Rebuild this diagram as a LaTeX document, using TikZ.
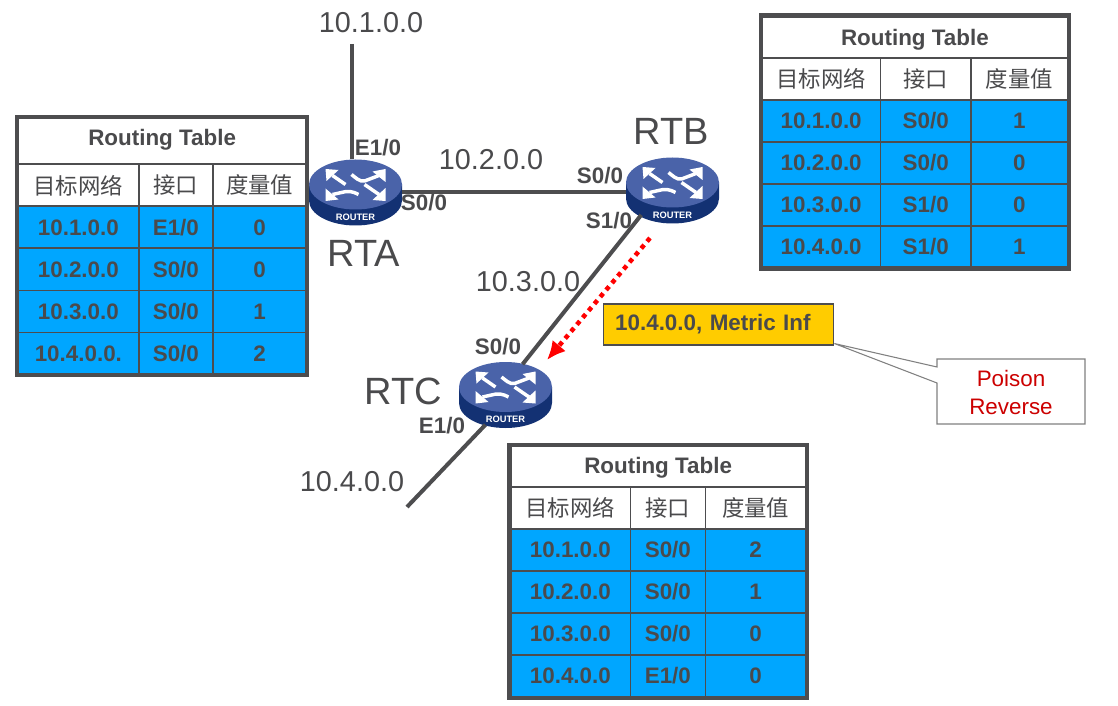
\documentclass[tikz,border=0pt]{standalone}
\usepackage{fontspec}
\setmainfont{Liberation Sans}
\newfontfamily\cjk{Noto Sans CJK SC}
\usetikzlibrary{arrows.meta,shapes.geometric,shapes.callouts}

\definecolor{txtgray}{HTML}{4A4A4C}
\definecolor{linegray}{HTML}{4D4D4F}
\definecolor{cellblue}{HTML}{00A6FF}
\definecolor{boxyellow}{HTML}{FFCC00}
\definecolor{routertop}{HTML}{4A63A9}
\definecolor{routerside}{HTML}{133173}
\definecolor{poisonred}{HTML}{CC0000}

\tikzset{
  tcell/.style={rectangle, draw=linegray, line width=1.3pt, anchor=north west, inner sep=0pt, text=txtgray},
  titlecell/.style={tcell, fill=white},
  titletext/.style={inner sep=0pt, text=txtgray, font=\fontsize{16.8}{20}\selectfont\bfseries},
  headcell/.style={tcell, fill=white, font=\fontsize{16.8}{20}\selectfont\cjk},
  datacell/.style={tcell, fill=cellblue, font=\fontsize{16.8}{20}\selectfont\bfseries},
  tableframe/.style={draw=linegray, line width=3.2pt},
  netlabel/.style={text=txtgray, inner sep=0pt, font=\fontsize{21.6}{26}\selectfont},
  portlabel/.style={text=txtgray, inner sep=0pt, font=\fontsize{16.8}{20}\selectfont\bfseries},
  routerlabel/.style={text=txtgray, inner sep=0pt, font=\fontsize{28.5}{34}\selectfont},
  routerbody/.style={ellipse, minimum width=69.75pt, minimum height=49.5pt, inner sep=0pt, outer sep=0pt},
  routershaft/.style={draw=white, line width=2.6pt},
  routerhead/.style={fill=white},
  link/.style={draw=linegray, line width=3pt}
}

% router icon: name, x, y
\newcommand{\routericon}[3]{%
  \node[routerbody] (#1) at (#2,#3) {};
  \begin{scope}[shift={(#2,#3)}]
    \fill[routerside] (-46.5,-8) -- (-46.5,8) arc[start angle=180, end angle=0, x radius=46.5, y radius=25] -- (46.5,-8) -- cycle;
    \fill[routertop] (0,-8) ellipse[x radius=46.5, y radius=25];
    \begin{scope}[shift={(0,-8)}]
      \draw[routershaft] (-23,-9) -- (-10,0);
      \fill[routerhead] (-30,-15.5) -- (-17,-14.5) -- (-29,-3.5) -- cycle;
      \draw[routershaft] (23.5,-9) -- (9,-3.5) .. controls (4,-2.5) and (0,-7) .. (-4,-10);
      \fill[routerhead] (30,-15.5) -- (17,-13) -- (30,-2.5) -- cycle;
      \draw[routershaft] (-23,10) -- (-14,8) .. controls (-8,6) and (-2,7) .. (3,10);
      \fill[routerhead] (-30,16.5) -- (-30,4) -- (-17,15) -- cycle;
      \draw[routershaft] (23.5,10) -- (9,0);
      \fill[routerhead] (30,16.5) -- (30,3.5) -- (17,15.5) -- cycle;
    \end{scope}
    \node[inner sep=0pt, text=white, font=\fontsize{7}{8}\selectfont\bfseries] (#1-tag) at (0,24.5) {ROUTER};
  \end{scope}
}

% routing table: name, left, top, three column widths, title height, header height, rows
\newcommand{\titleshift}{0pt}
\newcommand{\routingtable}[9]{%
  \pgfmathsetmacro{\tablew}{#4+#5+#6}
  \node[titlecell, minimum width=0.75pt*\tablew, minimum height=0.75pt*#7] (#1-title) at (#2,#3) {};
  \node[titletext, yshift=\titleshift] (#1-caption) at (#1-title.center) {Routing Table};
  \node[headcell, minimum width=0.75pt*#4, minimum height=0.75pt*#8] (#1-net) at (#2,#3+#7) {目标网络};
  \node[headcell, minimum width=0.75pt*#5, minimum height=0.75pt*#8] (#1-port) at (#2+#4,#3+#7) {接口};
  \node[headcell, minimum width=0.75pt*#6, minimum height=0.75pt*#8] (#1-metric) at (#2+#4+#5,#3+#7) {度量值};
  \foreach \rnet/\rport/\rmetric [count=\r] in {#9} {
    \pgfmathsetmacro{\rtop}{#3+#7+#8+(\r-1)*42}
    \node[datacell, minimum width=0.75pt*#4, minimum height=31.5pt] (#1-net-\r) at (#2,\rtop) {\rnet};
    \node[datacell, minimum width=0.75pt*#5, minimum height=31.5pt] (#1-port-\r) at (#2+#4,\rtop) {\rport};
    \node[datacell, minimum width=0.75pt*#6, minimum height=31.5pt] (#1-metric-\r) at (#2+#4+#5,\rtop) {\rmetric};
  }
  \draw[tableframe] (#1-title.north west) rectangle (#1-metric-4.south east);
}

\begin{document}
\begin{tikzpicture}[x=0.75pt, y=-0.75pt]
    \useasboundingbox (0,0) rectangle (1118,706);

    % Routers
    \routericon{rta}{355.5}{192.5}
    \routericon{rtb}{672.5}{190.5}
    \routericon{rtc}{505.5}{395}

    % Free ends
    \coordinate (net1) at (352,44);
    \coordinate (net4) at (407,507);
    \coordinate (updstart) at (650,238);
    \coordinate (updend) at (547,360);

    % Links
    \draw[link] (net1) -- (rta.north -| net1);
    \draw[link] (rta.east) -- (rtb.west |- rta.east);
    \draw[link] (rtb.218) -- (rtc.61);
    \draw[link] (rtc.236) -- (net4);

    % Update on the link
    \draw[draw=red, line width=3.4pt, dash pattern=on 3.4pt off 3.4pt, -{Latex[length=14pt,width=13pt]}] (updstart) -- (updend);

    % Labels
    \node[netlabel] (lnet1) at (371,23) {10.1.0.0};
    \node[netlabel] (lnet2) at (491,160) {10.2.0.0};
    \node[netlabel] (lnet3) at (528,282) {10.3.0.0};
    \node[netlabel] (lnet4) at (352,482) {10.4.0.0};

    \node[routerlabel] (lrta) at (364,253) {RTA};
    \node[routerlabel] (lrtb) at (671.5,131) {RTB};
    \node[routerlabel] (lrtc) at (403,391) {RTC};

    \node[portlabel] (pa1) at (378,148) {E1/0};
    \node[portlabel] (pa2) at (424,203) {S0/0};
    \node[portlabel] (pb1) at (600,176) {S0/0};
    \node[portlabel] (pb2) at (609,221) {S1/0};
    \node[portlabel] (pc1) at (498,347) {S0/0};
    \node[portlabel] (pc2) at (442,426) {E1/0};

    % Tables
    \renewcommand{\titleshift}{1.2pt}
    \routingtable{ta}{17}{117}{121}{74}{93.5}{46.5}{42}{10.1.0.0/{E1/0}/0, 10.2.0.0/{S0/0}/0, 10.3.0.0/{S0/0}/1, 10.4.0.0./{S0/0}/2}
    \renewcommand{\titleshift}{-1.7pt}
    \routingtable{tb}{761}{15.5}{118.7}{90.3}{97}{41.4}{42}{10.1.0.0/{S0/0}/1, 10.2.0.0/{S0/0}/0, 10.3.0.0/{S1/0}/0, 10.4.0.0/{S1/0}/1}
    \renewcommand{\titleshift}{-0.7pt}
    \routingtable{tc}{509.5}{445}{120}{75}{100.5}{41}{42}{10.1.0.0/{S0/0}/2, 10.2.0.0/{S0/0}/1, 10.3.0.0/{S0/0}/0, 10.4.0.0/{E1/0}/0}

    % Update box and its note
    \node[rectangle, draw=linegray, line width=0.8pt, fill=boxyellow, text=txtgray, inner xsep=9pt, inner ysep=0pt,
          minimum height=30.75pt, text width=155pt, align=left, font=\fontsize{16.8}{20}\selectfont\bfseries] (update) at (718.5,324.5) {10.4.0.0, Metric Inf};

    \node[rectangle callout, draw=gray, line width=0.8pt, fill=white, text=poisonred, inner sep=0pt,
          minimum width=111pt, minimum height=48.75pt, align=center, callout pointer width=12pt,
          callout absolute pointer={([yshift=1.5pt]update.south east)},
          font=\fontsize{16.8}{21}\selectfont] (poison) at (1011,391.5) {\rule{0pt}{14pt}Poison\\Reverse};
\end{tikzpicture}
\end{document}
